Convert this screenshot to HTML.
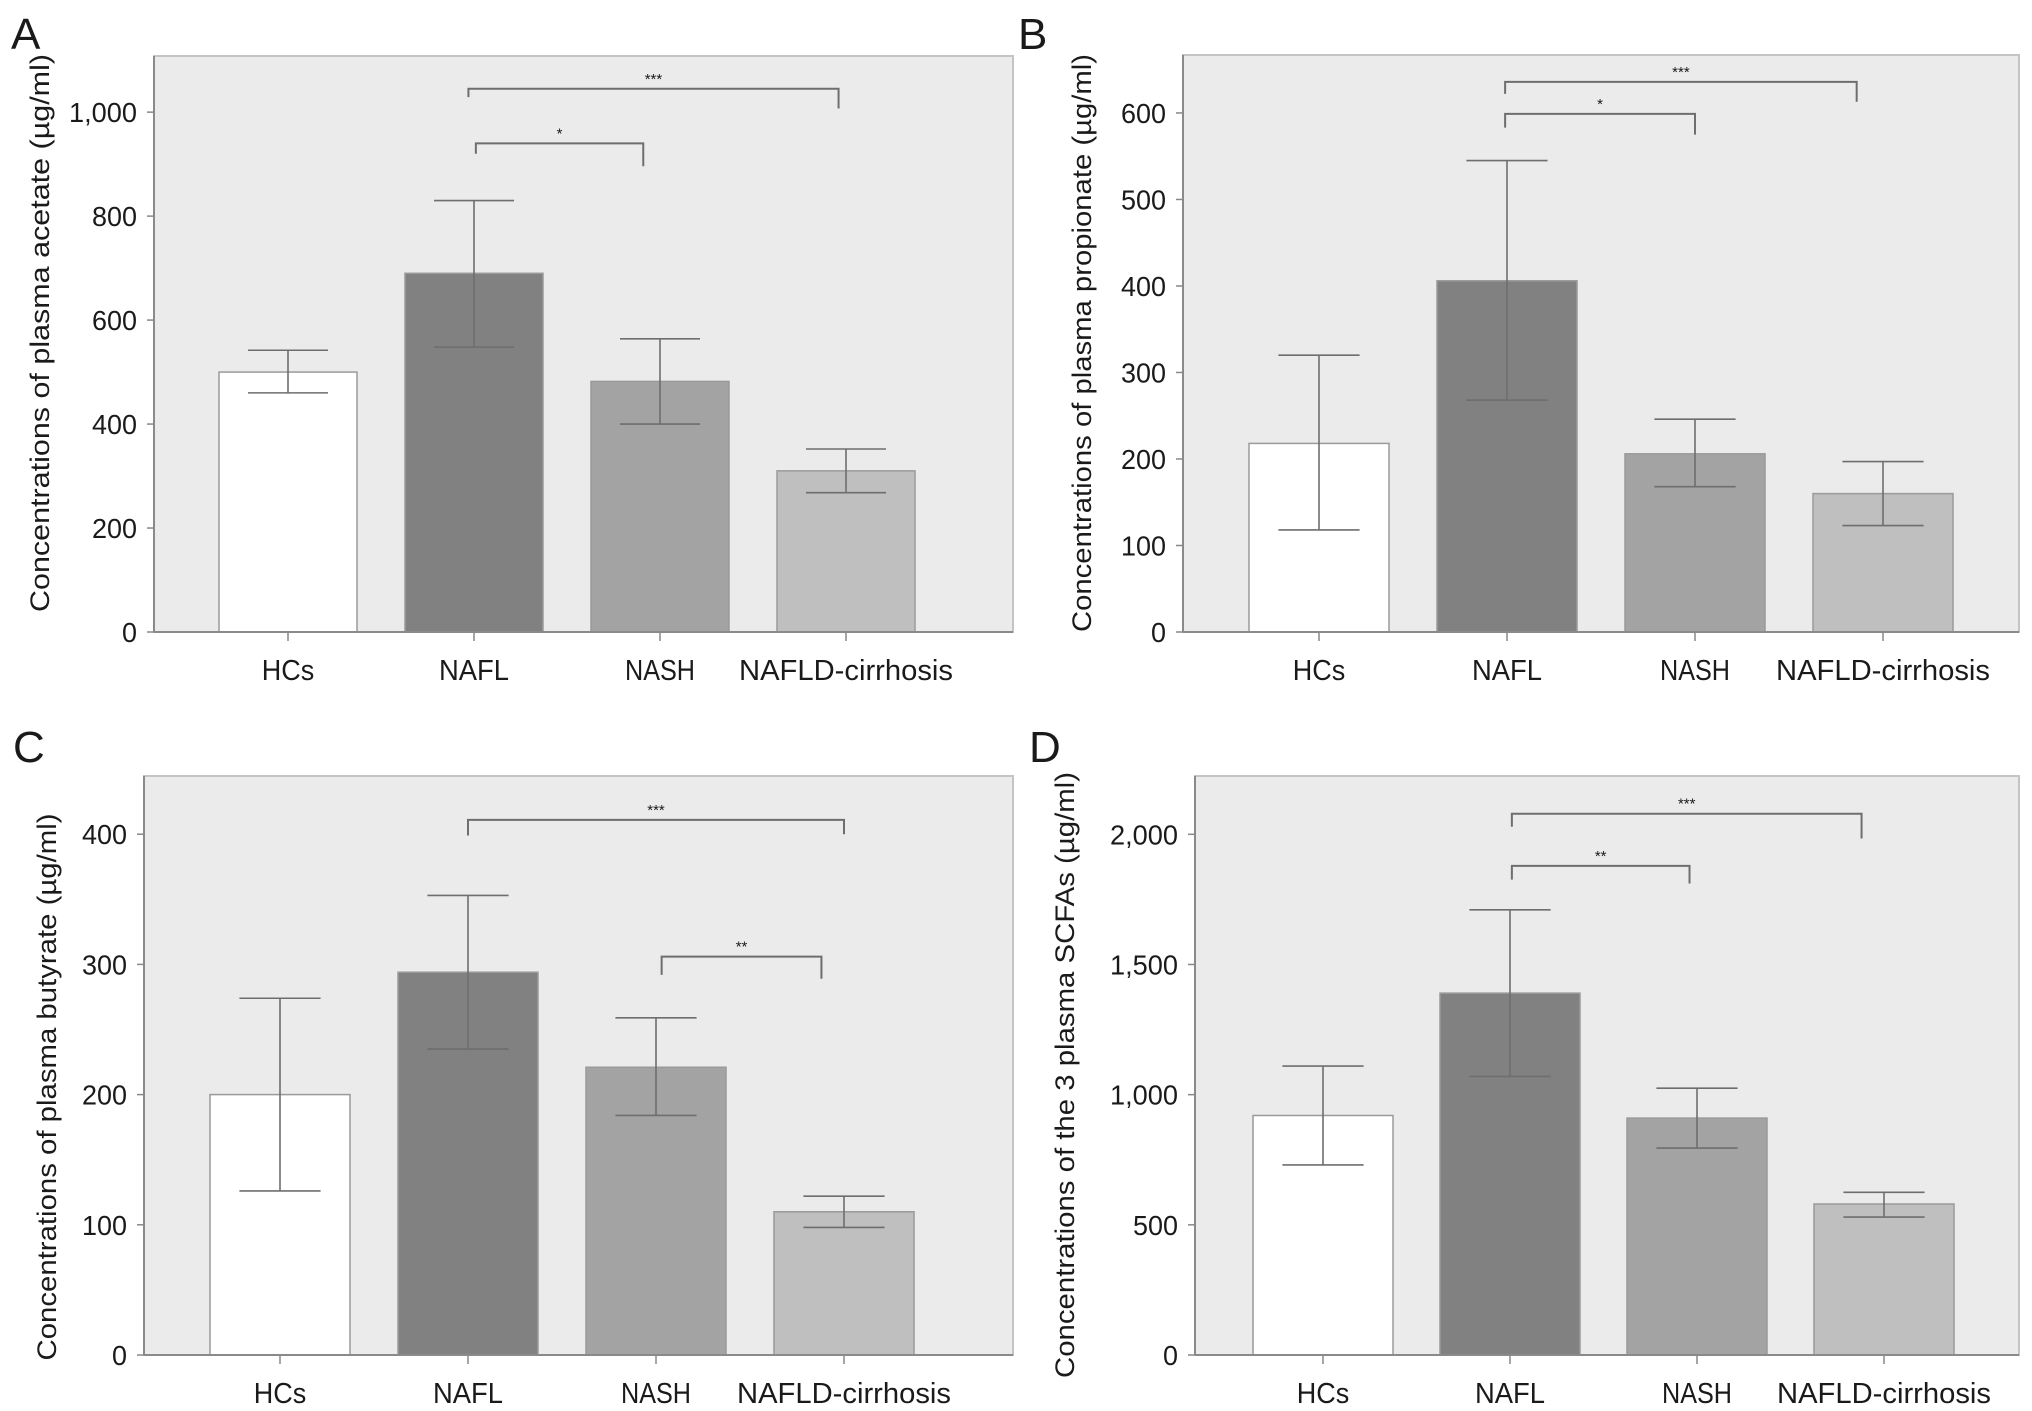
<!DOCTYPE html>
<html><head><meta charset="utf-8"><style>
html,body{margin:0;padding:0;background:#fff;overflow:hidden;}
svg{display:block;}
text{font-family:"Liberation Sans",sans-serif;fill:#1a1a1a;}
</style></head><body>
<svg id="fig" width="2032" height="1411" viewBox="0 0 2032 1411" xmlns="http://www.w3.org/2000/svg"></svg>
<script>
const categories = ["HCs","NAFL","NASH","NAFLD-cirrhosis"];
const acetateMeans = [500, 690, 482, 310];
const acetateLo = [460, 548, 400, 268];
const acetateHi = [542, 830, 564, 352];
const acetateTicks = [0, 200, 400, 600, 800, 1000];
const acetateTickLabels = ["0","200","400","600","800","1,000"];
const propionateMeans = [218, 406, 206, 160];
const propionateLo = [118, 268, 168, 123];
const propionateHi = [320, 545, 246, 197];
const propionateTicks = [0, 100, 200, 300, 400, 500, 600];
const propionateTickLabels = ["0","100","200","300","400","500","600"];
const butyrateMeans = [200, 294, 221, 110];
const butyrateLo = [126, 235, 184, 98];
const butyrateHi = [274, 353, 259, 122];
const butyrateTicks = [0, 100, 200, 300, 400];
const butyrateTickLabels = ["0","100","200","300","400"];
const totalMeans = [920, 1390, 910, 580];
const totalLo = [730, 1070, 795, 530];
const totalHi = [1110, 1710, 1025, 625];
const totalTicks = [0, 500, 1000, 1500, 2000];
const totalTickLabels = ["0","500","1,000","1,500","2,000"];
// brackets: [fromCategoryPos, toCategoryPos, y, leftEndY, rightEndY, label]
const acetateBrackets = [[0.97, 2.96, 1045, 1029, 1007, "***"], [1.01, 1.91, 940, 920, 896, "*"]];
const propionateBrackets = [[0.99, 2.86, 636, 622, 613, "***"], [0.99, 2.0, 599, 583, 575, "*"]];
const butyrateBrackets = [[1.0, 3.0, 411, 399, 400, "***"], [2.03, 2.88, 306, 292, 289, "**"]];
const totalBrackets = [[1.01, 2.88, 2079, 2029, 1984, "***"], [1.01, 1.96, 1879, 1826, 1811, "**"]];

const NS = "http://www.w3.org/2000/svg";
const svg = document.getElementById("fig");
const colors = ["#ffffff","#818181","#a3a3a3","#bfbfbf"];
function mk(tag, attrs, parent){
  const e = document.createElementNS(NS, tag);
  for (const k in attrs) e.setAttribute(k, attrs[k]);
  (parent||svg).appendChild(e); return e;
}
function labelWidth(s){ let w=0; for (const ch of s) w += (ch===",") ? 8 : 15; return w; }
function panel(p){
  const g = mk("g", {});
  
  
  const H = p.y0 - p.top;
  const ys = v => p.y0 - (v / p.ymax) * H;
  const xc = i => p.c0 + p.step * i;
  const bg = mk("rect", {x:p.left, y:p.top, width:p.right-p.left, height:p.y0-p.top, fill:"#ebebeb", stroke:"#c4c4c4", "stroke-width":2}, g);
  
  
  const L = mk("text", {x:p.lx, y:p.ly, "font-size":44}, g); L.textContent = p.letter;
  
  
  p.means.forEach((v,i)=>{
    const bw = p.bw;
    const r = mk("rect", {x:xc(i)-bw/2, y:ys(v), width:bw, height:p.y0-ys(v), fill:colors[i], stroke:"#9a9a9a", "stroke-width":1.5}, g);
    
    
    const eg = mk("g", {stroke:"#6e6e6e", "stroke-width":1.6, fill:"none"}, g);
    
    
    const cw = bw*0.29;
    mk("line",{x1:xc(i),x2:xc(i),y1:ys(p.lo[i]),y2:ys(p.hi[i])},eg);
    mk("line",{x1:xc(i)-cw,x2:xc(i)+cw,y1:ys(p.lo[i]),y2:ys(p.lo[i])},eg);
    mk("line",{x1:xc(i)-cw,x2:xc(i)+cw,y1:ys(p.hi[i]),y2:ys(p.hi[i])},eg);
    mk("line",{x1:xc(i),x2:xc(i),y1:p.y0,y2:p.y0+9,stroke:"#888","stroke-width":1.5},g);
    const t = mk("text",{x:xc(i), y:p.y0+48, "font-size":29, "text-anchor":"middle", lengthAdjust:"spacingAndGlyphs"}, g);
    t.textContent = categories[i];
    t.setAttribute("textLength", categories[i].length > 10 ? 214 : categories[i].length*17.5);
    
    
  });
  mk("line",{x1:p.left,x2:p.right,y1:p.y0,y2:p.y0,stroke:"#8a8a8a","stroke-width":2},g);
  mk("line",{x1:p.left,x2:p.left,y1:p.top,y2:p.y0,stroke:"#8a8a8a","stroke-width":2},g);
  p.ticks.forEach((v,i)=>{
    mk("line",{x1:p.left-7,x2:p.left,y1:ys(v),y2:ys(v),stroke:"#888","stroke-width":1.5},g);
    const s = p.tickLabels[i];
    const t = mk("text",{x:p.left-17, y:ys(v)+10, "font-size":28, "text-anchor":"end", textLength:labelWidth(s), lengthAdjust:"spacingAndGlyphs"}, g);
    t.textContent = s;
    
    
  });
  const yt = mk("text",{x:p.tx, y:p.tcy, "font-size":27, "text-anchor":"middle", transform:`rotate(-90 ${p.tx} ${p.tcy})`, textLength:p.tlen, lengthAdjust:"spacingAndGlyphs"}, g);
  yt.textContent = p.title;
  
  
  p.brackets.forEach(b=>{
    const bx1 = xc(b[0]), bx2 = xc(b[1]);
    const bg2 = mk("g",{},g);
    
    
    mk("polyline",{points:`${bx1},${ys(b[3])} ${bx1},${ys(b[2])} ${bx2},${ys(b[2])} ${bx2},${ys(b[4])}`, fill:"none", stroke:"#6e6e6e","stroke-width":2},bg2);
    const st = mk("text",{x:(bx1+bx2)/2, y:ys(b[2])-5, "font-size":15, "text-anchor":"middle"},bg2);
    st.textContent = b[5];
  });
}
panel({name:"panel-a-acetate", letter:"A", lx:11, ly:49, left:154, right:1013, top:56, y0:632, ymax:1108,
  c0:288, step:186, bw:138, means:acetateMeans, lo:acetateLo, hi:acetateHi, ticks:acetateTicks, tickLabels:acetateTickLabels,
  title:"Concentrations of plasma acetate (µg/ml)", tx:49, tcy:333, tlen:558, brackets:acetateBrackets});
panel({name:"panel-b-propionate", letter:"B", lx:1018, ly:49, left:1183, right:2019, top:55, y0:632, ymax:667,
  c0:1319, step:188, bw:140, means:propionateMeans, lo:propionateLo, hi:propionateHi, ticks:propionateTicks, tickLabels:propionateTickLabels,
  title:"Concentrations of plasma propionate (µg/ml)", tx:1091, tcy:343, tlen:578, brackets:propionateBrackets});
panel({name:"panel-c-butyrate", letter:"C", lx:13, ly:762, left:144, right:1013, top:776, y0:1355, ymax:444.7,
  c0:280, step:188, bw:140, means:butyrateMeans, lo:butyrateLo, hi:butyrateHi, ticks:butyrateTicks, tickLabels:butyrateTickLabels,
  title:"Concentrations of plasma butyrate (µg/ml)", tx:56, tcy:1087, tlen:547, brackets:butyrateBrackets});
panel({name:"panel-d-total-scfa", letter:"D", lx:1029, ly:762, left:1195, right:2019, top:776, y0:1355, ymax:2224,
  c0:1323, step:187, bw:140, means:totalMeans, lo:totalLo, hi:totalHi, ticks:totalTicks, tickLabels:totalTickLabels,
  title:"Concentrations of the 3 plasma SCFAs (µg/ml)", tx:1074, tcy:1075, tlen:606, brackets:totalBrackets});
</script>
</body></html>
